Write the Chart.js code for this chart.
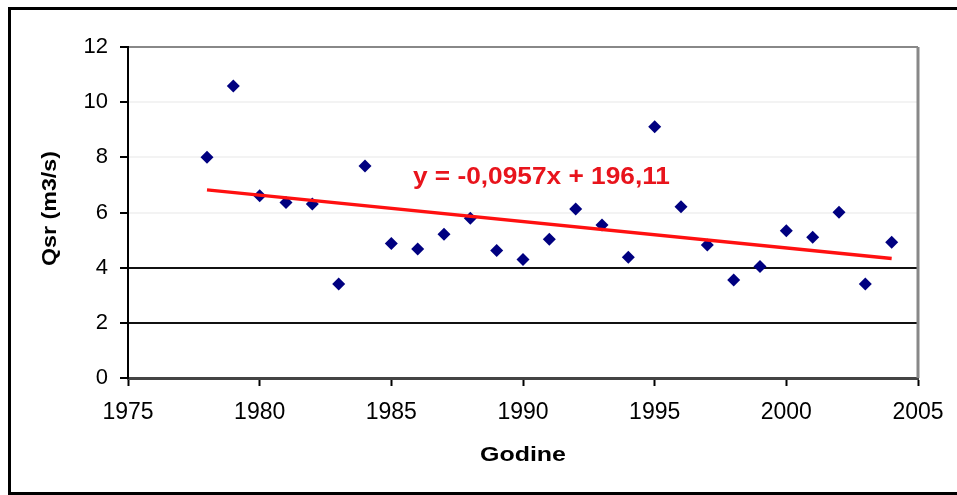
<!DOCTYPE html>
<html>
<head>
<meta charset="utf-8">
<script src="https://cdn.jsdelivr.net/npm/chart.js@4.4.0/dist/chart.umd.min.js"></script>
<style>
  html, body { margin: 0; padding: 0; background: #fff; }
  #wrap { position: relative; width: 957px; height: 495px; }
</style>
</head>
<body>
<div id="wrap"><canvas id="qsrChart" width="957" height="495"></canvas></div>
<script>
// godine i srednji protoci (ocitano sa slike)
const years = [1978, 1979, 1980, 1981, 1982, 1983, 1984, 1985, 1986, 1987, 1988, 1989, 1990, 1991,
  1992, 1993, 1994, 1995, 1996, 1997, 1998, 1999, 2000, 2001, 2002, 2003, 2004];
const qsr = [8.00, 10.59, 6.61, 6.36, 6.31, 3.41, 7.69, 4.88, 4.68, 5.21, 5.79, 4.62, 4.30, 5.03,
  6.13, 5.55, 4.38, 9.11, 6.21, 4.82, 3.55, 4.04, 5.34, 5.10, 6.01, 3.41, 4.92];

// linija trenda: krajnje tacke
const trendYears = [1978, 2004];
const trendValues = [6.82, 4.33];
const trendLabel = "y = -0,0957x + 196,11";

const xTicks = [1975, 1980, 1985, 1990, 1995, 2000, 2005];
const yTicks = [0, 2, 4, 6, 8, 10, 12];

const FONT = "'Liberation Sans', Arial, sans-serif";

// tekst razvucen po sirini (kao na originalu)
function fitText(ctx, text, x, y, width) {
  const w = ctx.measureText(text).width;
  ctx.save();
  ctx.translate(x, y);
  ctx.scale(width / w, 1);
  ctx.fillText(text, 0, 0);
  ctx.restore();
}

const extras = {
  id: "extras",
  beforeDraw(chart) {
    const c = chart.ctx;
    c.save();
    c.fillStyle = "#fff";
    c.fillRect(0, 0, chart.width, chart.height);
    c.strokeStyle = "#000";
    c.lineWidth = 3;
    c.strokeRect(9.5, 8.5, 960, 485);
    c.restore();
  },
  afterDraw(chart) {
    const c = chart.ctx;
    const a = chart.chartArea;
    const xs = chart.scales.x, ys = chart.scales.y;
    c.save();
    // desna ivica
    c.strokeStyle = "#888";
    c.lineWidth = 3;
    c.beginPath();
    c.moveTo(a.right, a.top);
    c.lineTo(a.right, a.bottom);
    c.stroke();
    // jednacina trenda
    c.fillStyle = "#e8141c";
    c.font = "bold 23px " + FONT;
    c.textAlign = "center";
    c.textBaseline = "middle";
    fitText(c, trendLabel, xs.getPixelForValue(1990.7), ys.getPixelForValue(7.28), 257);
    // naslovi osa
    c.fillStyle = "#000";
    c.font = "bold 21px " + FONT;
    fitText(c, "Godine", (a.left + a.right) / 2, 455, 86);
    c.save();
    c.translate(50, (a.top + a.bottom) / 2 - 4);
    c.rotate(-Math.PI / 2);
    fitText(c, "Qsr (m3/s)", 0, 0, 115);
    c.restore();
    c.restore();
  }
};

new Chart(document.getElementById("qsrChart").getContext("2d"), {
  type: "scatter",
  data: {
    datasets: [
      {
        label: "Qsr",
        data: years.map((y, i) => ({ x: y, y: qsr[i] })),
        pointStyle: "rectRot",
        pointRadius: 6.5,
        backgroundColor: "#000080",
        borderColor: "#000080",
        borderWidth: 0,
        order: 1
      },
      {
        label: "trend",
        type: "line",
        data: trendYears.map((y, i) => ({ x: y, y: trendValues[i] })),
        borderColor: "#ff1010",
        borderWidth: 3.5,
        pointRadius: 0,
        fill: false,
        order: 0
      }
    ]
  },
  options: {
    responsive: false,
    animation: false,
    events: [],
    layout: { padding: { top: 47, right: 39, left: 0, bottom: 0 } },
    plugins: { legend: { display: false }, tooltip: { enabled: false } },
    scales: {
      x: {
        type: "linear",
        min: xTicks[0],
        max: xTicks[xTicks.length - 1],
        afterBuildTicks: (s) => { s.ticks = xTicks.map(v => ({ value: v })); },
        afterFit: (s) => { s.height = 117; },
        border: { color: "#444", width: 3 },
        grid: { drawOnChartArea: false, drawTicks: true, tickLength: 8, tickColor: "#000", tickWidth: 2 },
        ticks: {
          color: "#000",
          font: { family: FONT, size: 23 },
          padding: 13,
          callback: (v) => String(v)
        }
      },
      y: {
        min: yTicks[0],
        max: yTicks[yTicks.length - 1],
        afterBuildTicks: (s) => { s.ticks = yTicks.map(v => ({ value: v })); },
        afterFit: (s) => { s.width = 128; },
        border: { color: "#000", width: 2 },
        grid: {
          color: (ctx) => {
            const v = ctx.tick ? ctx.tick.value : 0;
            if (v === 12) return "#888";
            if (v <= 4) return "#111";
            return "#f3f3f3";
          },
          lineWidth: 2,
          tickLength: 8,
          tickColor: "#000",
          tickWidth: 2
        },
        ticks: {
          color: "#000",
          font: { family: FONT, size: 22 },
          padding: 12
        }
      }
    }
  },
  plugins: [extras]
});
</script>
</body>
</html>
